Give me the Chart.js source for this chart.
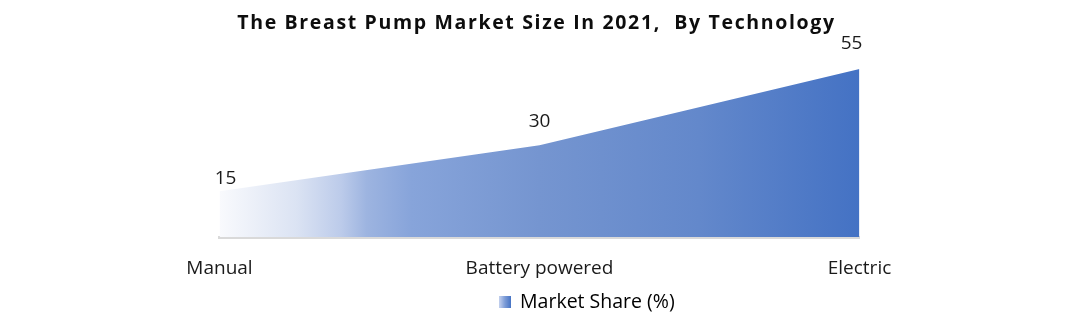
<!DOCTYPE html>
<html>
<head>
<meta charset="utf-8">
<script src="https://cdn.jsdelivr.net/npm/chart.js@4/dist/chart.umd.min.js"></script>
<style>
html,body{margin:0;padding:0;background:#fff;}
#wrap{width:1072px;height:322px;position:relative;}
</style>
</head>
<body>
<div id="wrap"><canvas id="c" width="1072" height="322"></canvas></div>
<script>
const categories = ["Manual", "Battery powered", "Electric"];
const marketShare = [15, 30, 55];
const seriesName = "Market Share (%)";
const chartTitle = "The Breast Pump Market Size In 2021,  By Technology";

const FONT = "'Open Sans', sans-serif";
const gradStops = [
  [0, "#f9fafd"], [0.12, "#dbe3f3"], [0.19, "#bccbea"], [0.23, "#9db4e0"],
  [0.3, "#87a4da"], [0.5, "#7595d0"], [0.75, "#6388cb"], [1, "#4472c4"]
];

function areaGradient(ctx, area) {
  const g = ctx.createLinearGradient(area.left, 0, area.right, 0);
  gradStops.forEach(s => g.addColorStop(s[0], s[1]));
  return g;
}

// legend swatch canvas
const sw = document.createElement("canvas");
sw.width = 12; sw.height = 12;
(function(){
  const c = sw.getContext("2d");
  const g = c.createLinearGradient(0, 0, 12, 0);
  g.addColorStop(0, "#c4d1ee"); g.addColorStop(0.45, "#7f9ed8"); g.addColorStop(1, "#4472c4");
  c.fillStyle = g; c.fillRect(0, 0, 12, 12);
})();

const labelPlugin = {
  id: "valueLabels",
  afterDatasetsDraw(chart, args, opts) {
    const ctx = chart.ctx;
    const meta = chart.getDatasetMeta(0);
    ctx.save();
    ctx.font = "19px " + FONT;
    ctx.fillStyle = "#1a1a1a";
    ctx.textAlign = "center";
    ctx.textBaseline = "middle";
    meta.data.forEach((pt, i) => {
      const off = opts.offsets[i];
      ctx.fillText(String(chart.data.datasets[0].data[i]), pt.x + off[0], pt.y + off[1]);
    });
    ctx.restore();
  }
};

// nudge title / legend horizontally to match the reference placement
const boxShiftPlugin = {
  id: "boxShift",
  afterLayout(chart, args, opts) {
    if (chart.titleBlock) { chart.titleBlock.left += opts.title; chart.titleBlock.right += opts.title; }
    if (chart.legend) { chart.legend.left += opts.legend; chart.legend.right += opts.legend; }
  }
};

const chart = new Chart(document.getElementById("c"), {
  type: "line",
  data: {
    labels: categories,
    datasets: [{
      label: seriesName,
      data: marketShare,
      fill: "origin",
      borderWidth: 0,
      borderColor: "rgba(0,0,0,0)",
      pointRadius: 0,
      tension: 0,
      backgroundColor: (c) => {
        const a = c.chart.chartArea;
        if (!a) return "#7595d0";
        return areaGradient(c.chart.ctx, a);
      }
    }]
  },
  options: {
    responsive: false,
    animation: false,
    devicePixelRatio: 1,
    layout: { padding: { left: 219.5, right: 212.5, top: 0, bottom: 0 } },
    plugins: {
      title: {
        display: true,
        text: chartTitle,
        color: "#0d0d0d",
        font: { family: FONT, size: 19.5, weight: "bold", lineHeight: 1.2 },
        padding: { top: 11.3, bottom: 19 }
      },
      legend: {
        display: true,
        position: "bottom",
        labels: {
          usePointStyle: true,
          pointStyle: sw,
          boxWidth: 10,
          boxHeight: 12,
          color: "#1a1a1a",
          font: { family: FONT, size: 19.5 },
          padding: 6,
          generateLabels(chart) {
            return [{ text: seriesName, pointStyle: sw, fillStyle: "#4472c4", strokeStyle: "rgba(0,0,0,0)", lineWidth: 0, datasetIndex: 0 }];
          }
        }
      },
      tooltip: { enabled: false },
      valueLabels: { offsets: [[6, -12.5], [0, -23.5], [-8, -25]] },
      boxShift: { title: -3, legend: 48 }
    },
    scales: {
      x: {
        offset: false,
        grid: { display: false, drawTicks: false },
        border: { display: true, color: "#d9d9d9", width: 3 },
        ticks: { color: "#1a1a1a", font: { family: FONT, size: 19, lineHeight: 1.2 }, padding: 20.6, maxRotation: 0 },
        afterFit(scale) { scale.height = 49.5; }
      },
      y: {
        display: false,
        min: 0,
        max: 60
      }
    }
  },
  plugins: [labelPlugin, boxShiftPlugin]
});

// letter-spaced title (matches the spaced bold heading)
const tb = chart.titleBlock;
const origTitleDraw = tb.draw;
tb.draw = function(...a) {
  const c = this.ctx;
  c.save();
  c.letterSpacing = "1.65px";
  origTitleDraw.apply(this, a);
  c.restore();
};
chart.draw();
</script>
</body>
</html>
